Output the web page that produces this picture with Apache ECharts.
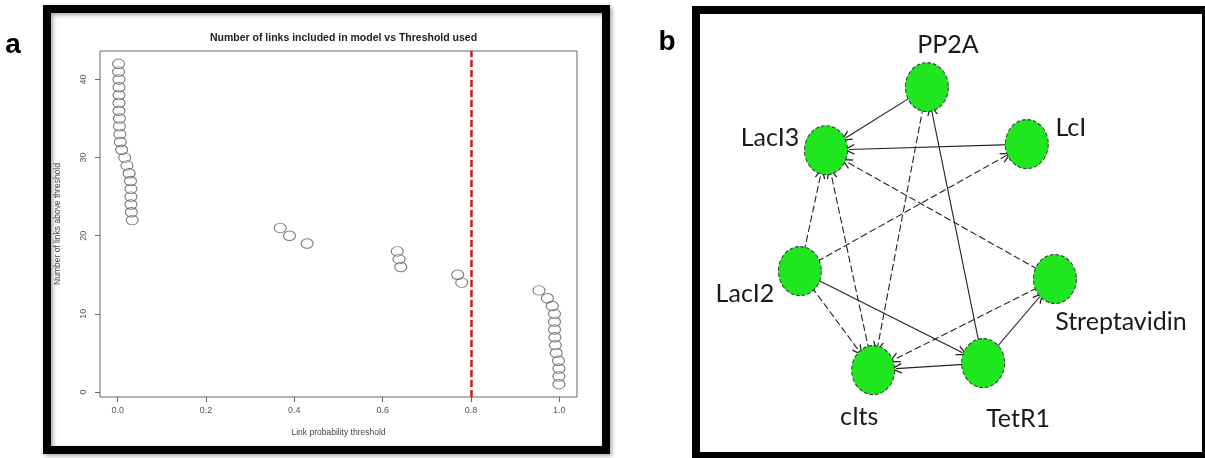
<!DOCTYPE html>
<html>
<head>
<meta charset="utf-8">
<script src="https://cdn.jsdelivr.net/npm/echarts@6/dist/echarts.min.js"></script>
<style>
  html, body { margin: 0; padding: 0; background: #ffffff; }
  #chart { width: 1205px; height: 458px; }
</style>
</head>
<body>
<div id="chart"></div>
<script>
// ---- Panel a: links kept vs. probability threshold ----
const thresholds = [
  0.002, 0.002, 0.003, 0.003, 0.003, 0.003, 0.003, 0.004, 0.004, 0.005, 0.006,
  0.009, 0.016, 0.021, 0.026, 0.029, 0.030, 0.030, 0.030, 0.031, 0.033,
  0.368, 0.389, 0.429,
  0.633, 0.637, 0.641,
  0.770, 0.779,
  0.954, 0.973, 0.984, 0.989, 0.989, 0.989, 0.990, 0.991, 0.993, 0.998, 0.999, 0.999, 0.999
];
const linkCounts = [
  42, 41, 40, 39, 38, 37, 36, 35, 34, 33, 32,
  31, 30, 29, 28, 27, 26, 25, 24, 23, 22,
  21, 20, 19,
  18, 17, 16,
  15, 14,
  13, 12, 11, 10, 9, 8, 7, 6, 5, 4, 3, 2, 1
];
const chosenThreshold = 0.795;
const xTickValues = [0, 0.2, 0.4, 0.6, 0.8, 1.0];
const yTickValues = [0, 10, 20, 30, 40];

// ---- Panel b: inferred network ----
const nodeNames = ['PP2A', 'LacI3', 'LcI', 'LacI2', 'Streptavidin', 'cIts', 'TetR1'];
const nodeX = [45.2, 25.1, 65.1, 19.9, 70.7, 34.5, 56.4];
const nodeY = [16.7, 31.1, 29.7, 58.7, 60.5, 81.3, 79.7];
const linkSources = ['PP2A', 'LcI', 'Streptavidin', 'LacI2', 'cIts', 'PP2A', 'TetR1', 'LacI2', 'LacI2', 'LacI2', 'TetR1', 'TetR1', 'Streptavidin'];
const linkTargets = ['LacI3', 'LacI3', 'LacI3', 'LacI3', 'LacI3', 'cIts', 'PP2A', 'LcI', 'cIts', 'TetR1', 'cIts', 'Streptavidin', 'cIts'];
const linkKinds = ['solid', 'solid', 'dashed', 'dashed', 'dashed', 'dashed', 'solid', 'dashed', 'dashed', 'solid', 'solid', 'solid', 'dashed'];

// label placement around each node (pixels from the node centre)
const labelOffsets = {
  'PP2A': [21, -42],
  'LacI3': [-56, -12],
  'LcI': [44, -16],
  'LacI2': [-55, 23],
  'Streptavidin': [66, 43],
  'cIts': [-14, 47],
  'TetR1': [35, 56]
};

const openArrow = 'path://M5,0 L10,10 L8.7,10 L5,2.6 L1.3,10 L0,10 Z';

const scatterData = thresholds.map((t, i) => [t, linkCounts[i]]);
const graphNodes = nodeNames.map((n, i) => ({
  name: n,
  value: [nodeX[i], nodeY[i]],
  label: { offset: labelOffsets[n] }
}));
const graphLinks = linkSources.map((s, i) => ({
  source: s,
  target: linkTargets[i],
  lineStyle: { type: linkKinds[i] === 'dashed' ? [7, 3] : 'solid' }
}));

const chart = echarts.init(document.getElementById('chart'), null, { renderer: 'canvas' });

const option = {
  animation: false,
  backgroundColor: '#ffffff',
  title: {
    text: 'Number of links included in model vs Threshold used',
    left: 338.5,
    top: 28,
    textAlign: 'center',
    textStyle: {
      fontFamily: 'Liberation Sans',
      fontSize: 10.5,
      fontWeight: 'bold',
      color: '#222'
    }
  },
  grid: [
    { left: 100, top: 51, width: 477, height: 346, show: true, borderColor: '#666', borderWidth: 1, backgroundColor: 'transparent' },
    { left: 700, top: 14, width: 502, height: 438, show: false }
  ],
  xAxis: [
    {
      gridIndex: 0,
      type: 'value',
      min: -0.04,
      max: 1.04,
      splitLine: { show: false },
      axisLine: { show: false, onZero: false },
      axisTick: { show: true, length: 5, customValues: xTickValues, lineStyle: { color: '#666' } },
      axisLabel: {
        customValues: xTickValues,
        formatter: v => v.toFixed(1),
        fontFamily: 'Liberation Sans',
        fontSize: 9,
        color: '#555',
        margin: 9
      },
      name: 'Link probability threshold',
      nameLocation: 'middle',
      nameGap: 31,
      nameTextStyle: { fontFamily: 'Liberation Sans', fontSize: 8.5, color: '#444' }
    },
    { gridIndex: 1, type: 'value', min: 0, max: 100, show: false }
  ],
  yAxis: [
    {
      gridIndex: 0,
      type: 'value',
      min: -0.64,
      max: 43.64,
      splitLine: { show: false },
      axisLine: { show: false, onZero: false },
      axisTick: { show: true, length: 5, customValues: yTickValues, lineStyle: { color: '#666' } },
      axisLabel: {
        customValues: yTickValues,
        rotate: 90,
        fontFamily: 'Liberation Sans',
        fontSize: 9,
        color: '#555',
        margin: 12
      },
      name: 'Number of links above threshold',
      nameLocation: 'middle',
      nameGap: 38,
      nameTextStyle: { fontFamily: 'Liberation Sans', fontSize: 8.5, color: '#444' }
    },
    { gridIndex: 1, type: 'value', min: 0, max: 100, inverse: true, show: false }
  ],
  series: [
    {
      type: 'scatter',
      xAxisIndex: 0,
      yAxisIndex: 0,
      data: scatterData,
      symbol: 'circle',
      symbolSize: [12, 9.5],
      itemStyle: { color: 'rgba(255,255,255,0)', borderColor: '#555', borderWidth: 1 },
      silent: true,
      markLine: {
        silent: true,
        symbol: ['none', 'none'],
        label: { show: false },
        lineStyle: { color: '#cc1a1a', width: 2.5, type: [7, 3] },
        data: [{ xAxis: chosenThreshold }]
      }
    },
    {
      type: 'graph',
      layout: 'none',
      coordinateSystem: 'cartesian2d',
      xAxisIndex: 1,
      yAxisIndex: 1,
      data: graphNodes,
      links: graphLinks,
      symbol: 'circle',
      symbolSize: [43, 49],
      itemStyle: { color: '#1fe61f', borderColor: '#2c3d2c', borderWidth: 1, borderType: [4, 2] },
      edgeSymbol: ['none', openArrow],
      edgeSymbolSize: [9, 11],
      lineStyle: { color: '#222', width: 1.1, opacity: 1, curveness: 0 },
      label: {
        show: true,
        position: 'inside',
        formatter: '{b}',
        fontFamily: 'Lato',
        fontSize: 25,
        color: '#1a1a1a'
      },
      emphasis: { disabled: true },
      silent: true
    }
  ],
  graphic: [
    {
      type: 'rect',
      shape: { x: 47, y: 9, width: 559, height: 441 },
      style: {
        fill: 'none', stroke: '#000', lineWidth: 8,
        shadowBlur: 4, shadowOffsetX: 2, shadowOffsetY: 2, shadowColor: 'rgba(0,0,0,0.35)'
      },
      silent: true
    },
    {
      type: 'rect',
      shape: { x: 696, y: 10, width: 510, height: 446 },
      style: { fill: 'none', stroke: '#000', lineWidth: 8 },
      silent: true
    },
    {
      type: 'text',
      x: 13, y: 45,
      style: {
        text: 'a', fontFamily: 'Liberation Sans', fontWeight: 'bold', fontSize: 28,
        fill: '#000', align: 'center', verticalAlign: 'middle',
        shadowBlur: 3, shadowColor: 'rgba(0,0,0,0.3)', shadowOffsetX: 1, shadowOffsetY: 1
      },
      silent: true
    },
    {
      type: 'text',
      x: 667, y: 42,
      style: {
        text: 'b', fontFamily: 'Liberation Sans', fontWeight: 'bold', fontSize: 28,
        fill: '#000', align: 'center', verticalAlign: 'middle',
        shadowBlur: 3, shadowColor: 'rgba(0,0,0,0.3)', shadowOffsetX: 1, shadowOffsetY: 1
      },
      silent: true
    }
  ]
};

chart.setOption(option);
</script>
</body>
</html>
